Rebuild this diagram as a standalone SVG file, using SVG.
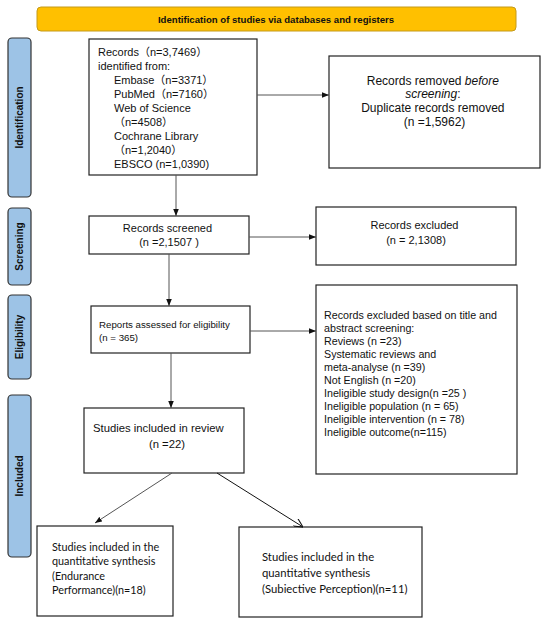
<svg xmlns="http://www.w3.org/2000/svg" width="550" height="624" viewBox="0 0 550 624">
<style>
.box{fill:#fff;stroke:#222;stroke-width:1.2}
.side{fill:#9dc3e6;stroke:#333;stroke-width:1.2}
.hdr{fill:#ffc000;stroke:#c49a1a;stroke-width:1}
.t{font-family:"Liberation Sans",Arial,"Noto Sans CJK SC",sans-serif;fill:#111}
.b{font-weight:bold}
.c{font-family:Lato,"Liberation Sans",sans-serif;fill:#111}
.ln{stroke:#555;stroke-width:1;fill:none}
</style>
<defs>
<marker id="ah" viewBox="0 0 10 10" refX="10" refY="5" markerWidth="7" markerHeight="7" orient="auto" markerUnits="userSpaceOnUse">
<path d="M0,1 L10,5 L0,9 z" fill="#111"/>
</marker>
<marker id="oh" viewBox="0 0 10 10" refX="10" refY="5" markerWidth="9" markerHeight="9" orient="auto" markerUnits="userSpaceOnUse">
<path d="M0,0 L10,5 L0,10" fill="none" stroke="#111" stroke-width="1.2"/>
</marker>
</defs>
<rect width="550" height="624" fill="#fff"/>
<g id="header">
<rect class="hdr" x="37" y="7" width="479" height="24" rx="4"/>
<text class="t b" x="276" y="23" font-size="9.6" text-anchor="middle">Identification of studies via databases and registers</text>
</g>
<g id="side-identification">
<rect class="side" x="8" y="38" width="23" height="159" rx="4"/>
<text class="t b" font-size="10" text-anchor="middle" transform="translate(23,117.5) rotate(-90)">Identification</text>
</g>
<g id="side-screening">
<rect class="side" x="8" y="208" width="23" height="77" rx="4"/>
<text class="t b" font-size="10" text-anchor="middle" transform="translate(23,246.5) rotate(-90)">Screening</text>
</g>
<g id="side-eligibility">
<rect class="side" x="8" y="295" width="23" height="84" rx="4"/>
<text class="t b" font-size="10" text-anchor="middle" transform="translate(23,337) rotate(-90)">Eligibility</text>
</g>
<g id="side-included">
<rect class="side" x="8" y="395" width="23" height="162" rx="4"/>
<text class="t b" font-size="10" text-anchor="middle" transform="translate(23,476) rotate(-90)">Included</text>
</g>
<g id="records-identified">
<rect class="box" x="89" y="39" width="168" height="136"/>
<text class="t" font-size="11">
<tspan x="98" y="56">Records（n=3,7469）</tspan>
<tspan x="98" y="70">identified from:</tspan>
<tspan x="114" y="84">Embase（n=3371）</tspan>
<tspan x="114" y="98">PubMed（n=7160）</tspan>
<tspan x="114" y="112">Web of Science</tspan>
<tspan x="114" y="126">（n=4508）</tspan>
<tspan x="114" y="140">Cochrane Library</tspan>
<tspan x="114" y="154">（n=1,2040）</tspan>
<tspan x="114" y="168">EBSCO (n=1,0390)</tspan>
</text>
</g>
<g id="records-removed">
<rect class="box" x="329" y="56" width="211" height="112"/>
<text class="t" font-size="12" text-anchor="middle">
<tspan x="434.5" y="85">Records removed <tspan font-style="italic">before</tspan></tspan>
<tspan x="434.5" y="98"><tspan font-style="italic">screening</tspan>:</tspan>
<tspan x="434.5" y="112">Duplicate records removed</tspan>
<tspan x="434.5" y="126">(n =1,5962)</tspan>
</text>
</g>
<g id="records-screened">
<rect class="box" x="89" y="216" width="160" height="38"/>
<text class="t" font-size="11" text-anchor="middle">
<tspan x="169" y="232">Records screened</tspan>
<tspan x="169" y="246">(n =2,1507 )</tspan>
</text>
</g>
<g id="records-excluded">
<rect class="box" x="316" y="207" width="200" height="58"/>
<text class="t" font-size="11" text-anchor="middle">
<tspan x="416" y="229">Records excluded</tspan>
<tspan x="416" y="244">(n = 2,1308)</tspan>
</text>
</g>
<g id="reports-assessed">
<rect class="box" x="91" y="306" width="159" height="47"/>
<text class="t" font-size="9.7">
<tspan x="99" y="328">Reports assessed for eligibility</tspan>
<tspan x="99" y="341">(n = 365)</tspan>
</text>
</g>
<g id="excluded-reasons">
<rect class="box" x="316" y="285" width="201" height="189"/>
<text class="t" font-size="10.7">
<tspan x="324" y="319">Records excluded based on title and</tspan>
<tspan x="324" y="332">abstract screening:</tspan>
<tspan x="324" y="345">Reviews (n =23)</tspan>
<tspan x="324" y="358">Systematic reviews and</tspan>
<tspan x="324" y="371">meta-analyse (n =39)</tspan>
<tspan x="324" y="384">Not English (n =20)</tspan>
<tspan x="324" y="397">Ineligible study design(n =25 )</tspan>
<tspan x="324" y="410">Ineligible population (n = 65)</tspan>
<tspan x="324" y="423">Ineligible intervention (n = 78)</tspan>
<tspan x="324" y="436">Ineligible outcome(n=115)</tspan>
</text>
</g>
<g id="studies-included">
<rect class="box" x="84" y="408" width="160" height="65"/>
<text class="t" font-size="11.3">
<tspan x="93" y="432">Studies included in review</tspan>
<tspan x="167" y="448" text-anchor="middle">(n =22)</tspan>
</text>
</g>
<g id="synthesis-endurance">
<rect class="box" x="37" y="526" width="136" height="90"/>
<text class="c" font-size="10.8">
<tspan x="52" y="551">Studies included in the</tspan>
<tspan x="52" y="565">quantitative synthesis</tspan>
<tspan x="52" y="580">(Endurance</tspan>
<tspan x="52" y="594">Performance)(n=18)</tspan>
</text>
</g>
<g id="synthesis-perception">
<rect class="box" x="239" y="527" width="183" height="90"/>
<text class="c" font-size="11.3">
<tspan x="262" y="561">Studies included in the</tspan>
<tspan x="262" y="577">quantitative synthesis</tspan>
<tspan x="262" y="593">(Subiective Perception)(n=11)</tspan>
</text>
</g>
<g id="connectors">
<line class="ln" x1="257" y1="95" x2="329" y2="95" marker-end="url(#ah)"/>
<line class="ln" x1="176" y1="175" x2="176" y2="216" marker-end="url(#ah)"/>
<line class="ln" x1="249" y1="237" x2="316" y2="237" marker-end="url(#ah)"/>
<line class="ln" x1="169" y1="254" x2="169" y2="306" marker-end="url(#ah)"/>
<line class="ln" x1="250" y1="331" x2="316" y2="331" marker-end="url(#ah)"/>
<line class="ln" x1="171" y1="353" x2="171" y2="408" marker-end="url(#ah)"/>
<line class="ln" x1="172" y1="473" x2="95" y2="523" marker-end="url(#ah)"/>
<line class="ln" style="stroke:#111" x1="217" y1="473" x2="303" y2="527" marker-end="url(#oh)"/>
</g>
</svg>
